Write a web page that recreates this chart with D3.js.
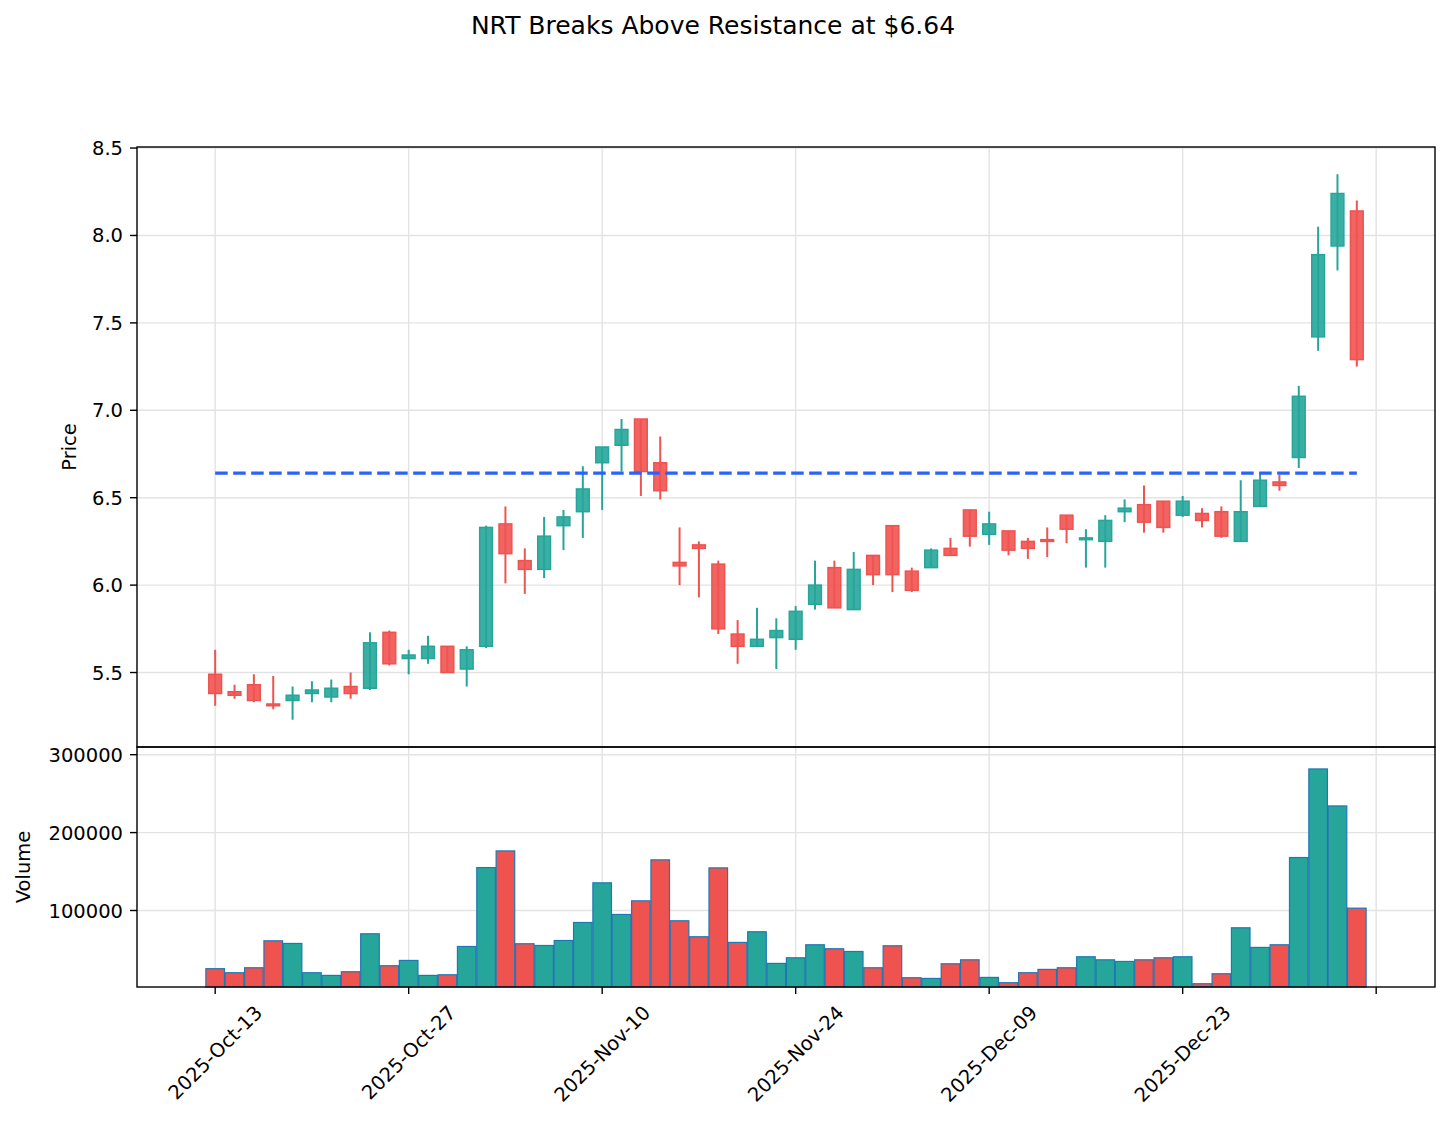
<!DOCTYPE html>
<html>
<head>
<meta charset="utf-8">
<script src="https://cdn.jsdelivr.net/npm/d3@7"></script>
<style>
  body { margin: 0; background: #fff; }
  text { font-family: "DejaVu Sans", sans-serif; fill: #000; }
</style>
</head>
<body>
<div id="chart"></div>
<script>
// trading days shown on the chart
const dates = [
  "2025-10-13","2025-10-14","2025-10-15","2025-10-16","2025-10-17",
  "2025-10-20","2025-10-21","2025-10-22","2025-10-23","2025-10-24",
  "2025-10-27","2025-10-28","2025-10-29","2025-10-30","2025-10-31",
  "2025-11-03","2025-11-04","2025-11-05","2025-11-06","2025-11-07",
  "2025-11-10","2025-11-11","2025-11-12","2025-11-13","2025-11-14",
  "2025-11-17","2025-11-18","2025-11-19","2025-11-20","2025-11-21",
  "2025-11-24","2025-11-25","2025-11-26","2025-11-28","2025-12-01",
  "2025-12-02","2025-12-03","2025-12-04","2025-12-05","2025-12-08",
  "2025-12-09","2025-12-10","2025-12-11","2025-12-12","2025-12-15",
  "2025-12-16","2025-12-17","2025-12-18","2025-12-19","2025-12-22",
  "2025-12-23","2025-12-24","2025-12-26","2025-12-29","2025-12-30",
  "2025-12-31","2026-01-02","2026-01-05","2026-01-06","2026-01-07"
];

const opens = [
  5.49, 5.39, 5.43, 5.32, 5.34, 5.38, 5.36, 5.42, 5.41, 5.73,
  5.58, 5.58, 5.65, 5.52, 5.65, 6.35, 6.14, 6.09, 6.34, 6.42,
  6.70, 6.80, 6.95, 6.70, 6.13, 6.23, 6.12, 5.72, 5.65, 5.70,
  5.69, 5.89, 6.10, 5.86, 6.17, 6.34, 6.08, 6.10, 6.21, 6.43,
  6.29, 6.31, 6.25, 6.26, 6.40, 6.26, 6.25, 6.42, 6.46, 6.48,
  6.40, 6.41, 6.42, 6.25, 6.45, 6.59, 6.73, 7.42, 7.94, 8.14
];
const highs = [
  5.63, 5.43, 5.49, 5.48, 5.42, 5.45, 5.46, 5.50, 5.73, 5.74,
  5.63, 5.71, 5.65, 5.65, 6.34, 6.45, 6.21, 6.39, 6.43, 6.68,
  6.79, 6.95, 6.95, 6.85, 6.33, 6.25, 6.14, 5.80, 5.87, 5.81,
  5.88, 6.14, 6.14, 6.19, 6.17, 6.34, 6.10, 6.21, 6.27, 6.43,
  6.42, 6.31, 6.27, 6.33, 6.40, 6.32, 6.40, 6.49, 6.57, 6.48,
  6.51, 6.44, 6.45, 6.60, 6.64, 6.63, 7.14, 8.05, 8.35, 8.20
];
const lows = [
  5.31, 5.35, 5.33, 5.29, 5.23, 5.33, 5.33, 5.35, 5.40, 5.54,
  5.49, 5.55, 5.50, 5.42, 5.64, 6.01, 5.95, 6.04, 6.20, 6.27,
  6.43, 6.65, 6.51, 6.49, 6.00, 5.93, 5.72, 5.55, 5.65, 5.52,
  5.63, 5.86, 5.87, 5.86, 6.00, 5.96, 5.96, 6.10, 6.17, 6.22,
  6.23, 6.17, 6.15, 6.16, 6.24, 6.10, 6.10, 6.36, 6.30, 6.30,
  6.39, 6.33, 6.27, 6.25, 6.45, 6.54, 6.67, 7.34, 7.80, 7.25
];
const closes = [
  5.38, 5.37, 5.34, 5.31, 5.37, 5.40, 5.41, 5.38, 5.67, 5.55,
  5.60, 5.65, 5.50, 5.63, 6.33, 6.18, 6.09, 6.28, 6.39, 6.55,
  6.79, 6.89, 6.65, 6.54, 6.11, 6.21, 5.75, 5.65, 5.69, 5.74,
  5.85, 6.00, 5.87, 6.09, 6.06, 6.06, 5.97, 6.20, 6.17, 6.28,
  6.35, 6.20, 6.21, 6.25, 6.32, 6.27, 6.37, 6.44, 6.36, 6.33,
  6.48, 6.37, 6.28, 6.42, 6.60, 6.57, 7.08, 7.89, 8.24, 7.29
];
const volumes = [
  25300, 20100, 26500, 61100, 57700, 20100, 16700, 21400, 70100, 29100,
  35900, 16700, 17500, 53800, 155100, 176500, 57300, 55100, 61500, 84600,
  135500, 94900, 112400, 165000, 86800, 66300, 154700, 59000, 72700, 32100,
  39300, 56000, 50900, 47400, 26500, 54700, 13700, 12800, 31600, 36700,
  14100, 7300, 20100, 24400, 26500, 40600, 36700, 34600, 36700, 39300,
  40600, 6000, 18800, 77800, 52600, 56000, 168000, 281700, 234200, 103000
];

const resistance = 6.64;
const priceTicks = [5.5, 6.0, 6.5, 7.0, 7.5, 8.0, 8.5];
const volumeTicks = [100000, 200000, 300000];
const xTickIndex = [0, 10, 20, 30, 40, 50, 60];

const upColor = "#26a69a";
const downColor = "#ef5350";

const W = 1448, H = 1126;
const left = 137, right = 1435;
const priceTop = 147, priceBottom = 747;
const volTop = 747, volBottom = 987;
const fontSize = 19.5;

const svg = d3.select("#chart").append("svg")
  .attr("width", W)
  .attr("height", H);

// index based x axis, like mplfinance does it
const x = d3.scaleLinear()
  .domain([-4.04, dates.length - 1 + 4.04])
  .range([left, right]);

// price range with 5% margins
const lo = d3.min(lows), hi = d3.max(highs);
const pad = (hi - lo) * 0.05;
const y = d3.scaleLinear()
  .domain([lo - pad, hi + pad])
  .range([priceBottom, priceTop]);

const yv = d3.scaleLinear()
  .domain([0.3 * d3.min(volumes), 1.1 * d3.max(volumes)])
  .range([volBottom, volTop]);

const gridColor = "#e3e3e3";

// grid lines, price panel
svg.append("g").selectAll("line")
  .data(priceTicks)
  .enter().append("line")
  .attr("x1", left).attr("x2", right)
  .attr("y1", d => y(d)).attr("y2", d => y(d))
  .attr("stroke", gridColor).attr("stroke-width", 1.4);

svg.append("g").selectAll("line")
  .data(xTickIndex)
  .enter().append("line")
  .attr("x1", d => x(d)).attr("x2", d => x(d))
  .attr("y1", priceTop).attr("y2", priceBottom)
  .attr("stroke", gridColor).attr("stroke-width", 1.4);

// grid lines, volume panel
svg.append("g").selectAll("line")
  .data(volumeTicks)
  .enter().append("line")
  .attr("x1", left).attr("x2", right)
  .attr("y1", d => yv(d)).attr("y2", d => yv(d))
  .attr("stroke", gridColor).attr("stroke-width", 1.4);

svg.append("g").selectAll("line")
  .data(xTickIndex)
  .enter().append("line")
  .attr("x1", d => x(d)).attr("x2", d => x(d))
  .attr("y1", volTop).attr("y2", volBottom)
  .attr("stroke", gridColor).attr("stroke-width", 1.4);

const candles = dates.map((d, i) => ({
  i: i, o: opens[i], h: highs[i], l: lows[i], c: closes[i], v: volumes[i],
  color: closes[i] >= opens[i] ? upColor : downColor
}));

// wicks
svg.append("g").selectAll("line")
  .data(candles)
  .enter().append("line")
  .attr("x1", d => x(d.i)).attr("x2", d => x(d.i))
  .attr("y1", d => y(d.h)).attr("y2", d => y(d.l))
  .attr("stroke", d => d.color)
  .attr("stroke-width", 2);

// bodies
const bodyW = x(0.33) - x(0);
svg.append("g").selectAll("rect")
  .data(candles)
  .enter().append("rect")
  .attr("x", d => x(d.i) - bodyW)
  .attr("width", bodyW * 2)
  .attr("y", d => y(Math.max(d.o, d.c)))
  .attr("height", d => Math.max(1, Math.abs(y(d.o) - y(d.c))))
  .attr("fill", d => d.color)
  .attr("fill-opacity", 0.9)
  .attr("stroke", d => d.color)
  .attr("stroke-width", 1.5);

// resistance line
svg.append("line")
  .attr("x1", x(0)).attr("x2", x(dates.length - 1))
  .attr("y1", y(resistance)).attr("y2", y(resistance))
  .attr("stroke", "#2962ff")
  .attr("stroke-width", 3.2)
  .attr("stroke-dasharray", "12.5,5.5");

// volume bars
const volW = (x(1) - x(0)) * 0.48;
svg.append("g").selectAll("rect")
  .data(candles)
  .enter().append("rect")
  .attr("x", d => x(d.i) - volW)
  .attr("width", volW * 2)
  .attr("y", d => yv(d.v))
  .attr("height", d => volBottom - yv(d.v))
  .attr("fill", d => d.color)
  .attr("stroke", "#1f77b4")
  .attr("stroke-width", 1.2);

// frames
svg.append("rect")
  .attr("x", left).attr("y", priceTop)
  .attr("width", right - left).attr("height", priceBottom - priceTop)
  .attr("fill", "none").attr("stroke", "#000").attr("stroke-width", 1.4);
svg.append("rect")
  .attr("x", left).attr("y", volTop)
  .attr("width", right - left).attr("height", volBottom - volTop)
  .attr("fill", "none").attr("stroke", "#000").attr("stroke-width", 1.4);

// y axis ticks + labels
const tickLen = 7;
function yTicks(ticks, scale, fmt) {
  const g = svg.append("g");
  g.selectAll("line").data(ticks).enter().append("line")
    .attr("x1", left - tickLen).attr("x2", left)
    .attr("y1", d => scale(d)).attr("y2", d => scale(d))
    .attr("stroke", "#000").attr("stroke-width", 1.4);
  g.selectAll("text").data(ticks).enter().append("text")
    .attr("x", left - tickLen - 7)
    .attr("y", d => scale(d))
    .attr("dy", "0.36em")
    .attr("text-anchor", "end")
    .style("font-size", fontSize + "px")
    .text(fmt);
}
yTicks(priceTicks, y, d => d.toFixed(1));
yTicks(volumeTicks, yv, d => String(d));

// x axis ticks + rotated date labels
const parse = d3.timeParse("%Y-%m-%d");
const fmtDate = d3.timeFormat("%Y-%b-%d");
const xg = svg.append("g");
xTickIndex.forEach(i => {
  xg.append("line")
    .attr("x1", x(i)).attr("x2", x(i))
    .attr("y1", volBottom).attr("y2", volBottom + tickLen)
    .attr("stroke", "#000").attr("stroke-width", 1.4);
  if (i >= dates.length) return;
  const t = xg.append("text")
    .style("font-size", fontSize + "px")
    .attr("text-anchor", "middle")
    .attr("dy", "0.35em")
    .text(fmtDate(parse(dates[i])));
  const len = t.node().getComputedTextLength();
  const boxH = (len + fontSize * 1.17) / Math.SQRT2;
  const cy = volBottom + tickLen + 7 + boxH / 2;
  t.attr("transform", `translate(${x(i)},${cy}) rotate(-45)`);
});

// axis labels
svg.append("text")
  .attr("transform", `translate(76,${(priceTop + priceBottom) / 2}) rotate(-90)`)
  .attr("text-anchor", "middle")
  .style("font-size", fontSize + "px")
  .text("Price");

svg.append("text")
  .attr("transform", `translate(30,${(volTop + volBottom) / 2}) rotate(-90)`)
  .attr("text-anchor", "middle")
  .style("font-size", fontSize + "px")
  .text("Volume");

// title
svg.append("text")
  .attr("x", 713).attr("y", 34)
  .attr("text-anchor", "middle")
  .style("font-size", "25px")
  .text("NRT Breaks Above Resistance at $6.64");
</script>
</body>
</html>
